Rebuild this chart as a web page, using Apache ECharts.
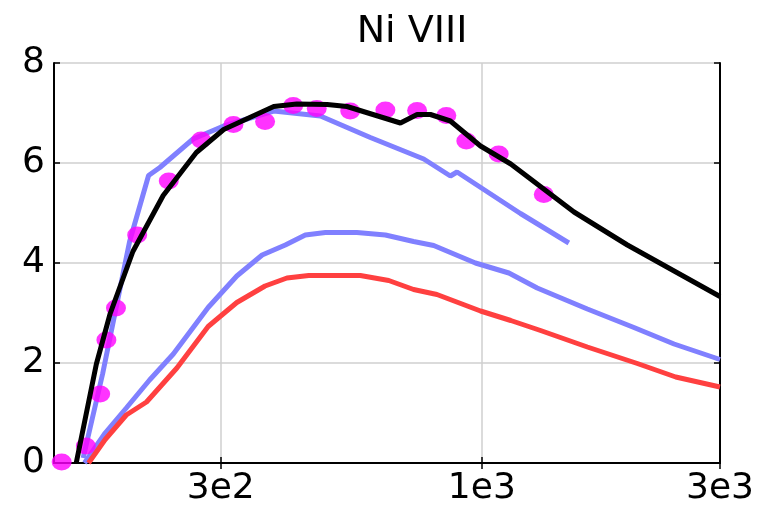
<!DOCTYPE html>
<html>
<head>
<meta charset="utf-8">
<script src="https://cdn.jsdelivr.net/npm/echarts@6/dist/echarts.min.js"></script>
<style>html,body{margin:0;padding:0;background:#fff;}#c{width:764px;height:507px;}</style>
</head>
<body>
<div id="c"></div>
<script>
// ---- data ----
var titleText = 'Ni VIII';
var xTickValues = [300, 1000, 3000];
var xTickLabels = ['3e2', '1e3', '3e3'];
var yTickLabels = ['0', '2', '4', '6', '8'];

var dotsX = [144, 161, 172, 177, 185, 204, 236, 274, 318, 368, 419, 467, 545, 641, 742, 849, 931, 1081, 1331];
var dotsY = [0.02, 0.34, 1.38, 2.46, 3.10, 4.56, 5.64, 6.46, 6.77, 6.83, 7.15, 7.09, 7.04, 7.06, 7.05, 6.95, 6.44, 6.18, 5.37];

var blackX = [154, 169, 180, 200, 230, 268, 304, 383, 426, 490, 537, 687, 742, 789, 865, 994, 1143, 1530, 1957, 3000];
var blackY = [0, 1.98, 2.98, 4.23, 5.35, 6.21, 6.67, 7.13, 7.18, 7.17, 7.13, 6.80, 6.97, 6.97, 6.84, 6.34, 5.98, 5.02, 4.36, 3.33];

var blueUpX = [159, 174, 197, 215, 226.5, 264, 304, 383, 475, 598, 765, 865, 892, 1195, 1494];
var blueUpY = [0.1, 1.79, 4.43, 5.75, 5.91, 6.48, 6.74, 7.04, 6.94, 6.51, 6.08, 5.74, 5.82, 4.99, 4.40];

var blueLowX = [160, 176, 194, 216, 241, 283, 323, 363, 404, 443, 486, 562, 641, 730, 801, 971, 1133, 1291, 1627, 2017, 2427, 3000];
var blueLowY = [0, 0.6, 1.10, 1.66, 2.18, 3.11, 3.74, 4.16, 4.36, 4.56, 4.61, 4.61, 4.56, 4.43, 4.35, 4.0, 3.80, 3.50, 3.08, 2.71, 2.38, 2.07];

var redX = [163, 176, 194, 213, 245, 283, 323, 368, 407, 450, 571, 651, 730, 813, 994, 1143, 1311, 1627, 2049, 2446, 3000];
var redY = [0, 0.47, 0.96, 1.22, 1.90, 2.73, 3.21, 3.54, 3.70, 3.75, 3.75, 3.65, 3.47, 3.37, 3.04, 2.85, 2.65, 2.32, 1.99, 1.72, 1.52];

function pairs(xs, ys) { return xs.map(function (x, i) { return [x, ys[i]]; }); }

var FONT = 'DejaVu Sans';
var chart = echarts.init(document.getElementById('c'), null, { renderer: 'canvas' });

var xCommon = {
  type: 'log', min: 139, max: 3000, logBase: 10
};

chart.setOption({
  animation: false,
  backgroundColor: '#fff',
  title: {
    text: titleText, left: 407, top: 8, textAlign: 'center',
    textStyle: { fontFamily: FONT, fontSize: 38, fontWeight: 'normal', color: '#000' }
  },
  grid: { left: 54, right: 44, top: 63, bottom: 40, containLabel: false },
  xAxis: [
    Object.assign({}, xCommon, {
      position: 'bottom',
      axisLine: { show: true, lineStyle: { color: '#000', width: 2 } },
      axisTick: { show: true, inside: true, length: 6, customValues: xTickValues, lineStyle: { color: '#000', width: 1.5 } },
      axisLabel: {
        show: true, customValues: xTickValues, margin: 8,
        fontFamily: FONT, fontSize: 36, color: '#000',
        formatter: function (v) { var i = xTickValues.indexOf(Math.round(v)); return i >= 0 ? xTickLabels[i] : ''; }
      },
      splitLine: { show: true, lineStyle: { color: '#cfcfcf', width: 1.5 } },
      minorTick: { show: false }, minorSplitLine: { show: false }
    }),
    Object.assign({}, xCommon, {
      position: 'top',
      axisLine: { show: true, lineStyle: { color: '#000', width: 2 } },
      axisTick: { show: true, inside: true, length: 6, customValues: xTickValues, lineStyle: { color: '#000', width: 1.5 } },
      axisLabel: { show: false },
      splitLine: { show: false }
    })
  ],
  yAxis: [
    {
      type: 'value', min: 0, max: 8, interval: 2, position: 'left',
      axisLine: { show: true, lineStyle: { color: '#000', width: 2 } },
      axisTick: { show: true, inside: true, length: 6, lineStyle: { color: '#000', width: 1.5 } },
      axisLabel: {
        margin: 9, fontFamily: FONT, fontSize: 36, color: '#000',
        formatter: function (v) { return yTickLabels[Math.round(v / 2)]; }
      },
      splitLine: { show: true, lineStyle: { color: '#cfcfcf', width: 1.5 } }
    },
    {
      type: 'value', min: 0, max: 8, interval: 2, position: 'right',
      axisLine: { show: true, lineStyle: { color: '#000', width: 2 } },
      axisTick: { show: true, inside: true, length: 6, lineStyle: { color: '#000', width: 1.5 } },
      axisLabel: { show: false },
      splitLine: { show: false }
    }
  ],
  series: [
    { type: 'line', data: pairs(blueLowX, blueLowY), symbol: 'none', lineStyle: { color: '#8080ff', width: 5 }, z: 2 },
    { type: 'line', data: pairs(redX, redY), symbol: 'none', lineStyle: { color: '#ff4040', width: 5 }, z: 2 },
    { type: 'line', data: pairs(blueUpX, blueUpY), symbol: 'none', lineStyle: { color: '#8080ff', width: 5 }, z: 2 },
    { type: 'scatter', data: pairs(dotsX, dotsY), symbol: 'circle', symbolSize: [20, 17], itemStyle: { color: '#ff00ff' }, z: 3 },
    { type: 'line', data: pairs(blackX, blackY), symbol: 'none', lineStyle: { color: '#000', width: 5 }, z: 4 }
  ]
});
</script>
</body>
</html>
